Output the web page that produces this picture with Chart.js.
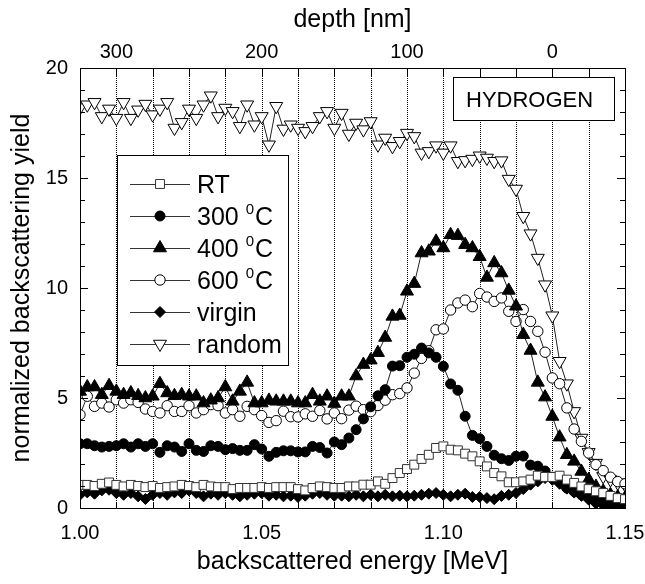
<!DOCTYPE html>
<html>
<head>
<meta charset="utf-8">
<script src="https://cdn.jsdelivr.net/npm/chart.js@4/dist/chart.umd.min.js"></script>
<style>
  html, body { margin: 0; padding: 0; background: #fff; }
  canvas { display: block; }
</style>
</head>
<body>
<canvas id="rbsChart" width="645" height="584"></canvas>
<script>
// backscattered energy [MeV], one value per channel
const energy = [
  1.000, 1.002, 1.004, 1.006, 1.008, 1.010, 1.012, 1.014, 1.016, 1.018,
  1.020, 1.022, 1.024, 1.026, 1.028, 1.030, 1.032, 1.034, 1.036, 1.038,
  1.040, 1.042, 1.044, 1.046, 1.048, 1.050, 1.052, 1.054, 1.056, 1.058,
  1.060, 1.062, 1.064, 1.066, 1.068, 1.070, 1.072, 1.074, 1.076, 1.078,
  1.080, 1.082, 1.084, 1.086, 1.088, 1.090, 1.092, 1.094, 1.096, 1.098,
  1.100, 1.102, 1.104, 1.106, 1.108, 1.110, 1.112, 1.114, 1.116, 1.118,
  1.120, 1.122, 1.124, 1.126, 1.128, 1.130, 1.132, 1.134, 1.136, 1.138,
  1.140, 1.142, 1.144, 1.146, 1.148, 1.150
];

const yieldRT = [
  1.05, 1.05, 1.00, 1.10, 1.16, 1.05, 0.98, 1.05, 1.00, 0.95,
  1.00, 0.91, 0.95, 0.98, 1.05, 1.00, 0.95, 1.05, 0.98, 0.95,
  0.95, 0.86, 0.91, 0.91, 0.91, 0.95, 0.91, 0.95, 0.95, 0.95,
  0.86, 0.80, 0.91, 0.98, 0.95, 0.91, 0.91, 0.98, 0.98, 1.06,
  1.06, 1.21, 1.10, 1.36, 1.59, 1.77, 1.97, 2.23, 2.42, 2.73,
  2.80, 2.65, 2.62, 2.47, 2.35, 2.12, 1.89, 1.59, 1.44, 1.17,
  1.17, 1.21, 1.29, 1.47, 1.41, 1.41, 1.47, 1.29, 1.14, 0.98,
  0.86, 0.76, 0.68, 0.55, 0.45, 0.40
];

const yield300 = [
  2.92, 2.92, 2.83, 2.77, 2.80, 2.83, 2.92, 2.77, 2.92, 2.80,
  2.92, 2.53, 2.83, 2.77, 2.57, 2.92, 2.62, 2.57, 2.83, 2.80,
  2.65, 2.70, 2.62, 2.62, 2.88, 2.68, 2.35, 2.53, 2.60, 2.60,
  2.55, 2.55, 2.80, 2.75, 2.50, 3.00, 2.88, 3.18, 3.56, 4.05,
  4.60, 5.10, 5.38, 6.45, 6.47, 6.85, 6.99, 7.27, 7.05, 6.85,
  6.44, 5.64, 5.35, 4.17, 3.30, 3.15, 2.80, 2.40, 2.24, 2.16,
  2.35, 2.36, 1.95, 1.90, 1.68, 1.40, 1.20, 0.91, 0.75, 0.60,
  0.50, 0.40, 0.35, 0.30, 0.25, 0.20
];

const yield400 = [
  5.30, 5.50, 5.50, 5.15, 5.56, 5.30, 5.15, 5.23, 5.10, 5.00,
  5.08, 5.65, 5.23, 5.10, 5.15, 5.08, 5.08, 4.77, 4.90, 5.00,
  5.50, 4.85, 5.30, 5.71, 4.77, 4.77, 4.89, 4.85, 4.85, 4.85,
  4.77, 4.77, 5.15, 4.85, 5.08, 4.75, 5.08, 5.08, 6.00, 6.52,
  6.72, 7.06, 7.75, 8.71, 8.75, 9.85, 10.20, 11.59, 11.67, 12.12,
  11.82, 12.42, 12.38, 11.97, 11.82, 11.42, 10.48, 11.14, 10.68, 9.89,
  9.17, 7.88, 7.16, 5.71, 5.04, 4.16, 3.22, 2.42, 2.12, 1.66,
  1.29, 0.98, 0.76, 0.60, 0.50, 0.45
];

const yield600 = [
  4.24, 5.08, 4.62, 4.77, 4.59, 4.92, 4.77, 4.92, 4.80, 4.50,
  4.39, 4.32, 4.65, 4.39, 4.39, 4.65, 4.32, 4.47, 4.70, 4.65,
  4.32, 4.47, 4.17, 4.62, 4.47, 4.20, 3.89, 3.97, 4.40, 4.15,
  4.14, 4.28, 4.17, 4.43, 4.05, 4.32, 4.06, 4.45, 4.63, 4.47,
  4.38, 4.66, 4.90, 5.15, 5.20, 5.46, 6.13, 6.80, 7.15, 8.10,
  8.14, 9.00, 9.32, 9.45, 9.15, 9.75, 9.59, 9.39, 9.55, 8.94,
  8.48, 9.02, 8.48, 8.03, 7.08, 5.91, 5.65, 4.55, 3.59, 3.03,
  2.50, 1.97, 1.70, 1.40, 1.20, 1.10
];

const yieldVirgin = [
  0.60, 0.71, 0.65, 0.80, 0.83, 0.68, 0.60, 0.68, 0.53, 0.41,
  0.60, 0.68, 0.60, 0.71, 0.68, 0.80, 0.68, 0.53, 0.65, 0.60,
  0.68, 0.60, 0.53, 0.60, 0.65, 0.68, 0.56, 0.60, 0.53, 0.56,
  0.50, 0.56, 0.65, 0.68, 0.60, 0.56, 0.56, 0.53, 0.60, 0.53,
  0.60, 0.53, 0.60, 0.53, 0.56, 0.53, 0.56, 0.60, 0.65, 0.68,
  0.60, 0.53, 0.60, 0.65, 0.50, 0.50, 0.45, 0.40, 0.55, 0.60,
  0.68, 0.86, 1.06, 1.21, 1.36, 1.28, 1.10, 0.88, 0.70, 0.55,
  0.38, 0.20, 0.12, 0.08, 0.05, 0.05
];

const yieldRandom = [
  18.20, 18.33, 18.44, 17.80, 18.14, 17.72, 18.44, 17.72, 18.10, 18.36,
  17.88, 18.14, 18.44, 17.27, 17.53, 18.14, 17.72, 18.33, 18.74, 17.80,
  18.18, 18.03, 17.35, 18.33, 17.42, 17.80, 16.51, 18.26, 17.23, 17.42,
  17.27, 17.12, 17.35, 17.80, 18.03, 17.27, 17.95, 17.00, 17.50, 17.20,
  17.57, 16.51, 16.82, 16.44, 16.67, 17.04, 16.89, 16.14, 16.21, 16.47,
  16.14, 16.47, 15.76, 15.80, 15.86, 16.01, 15.91, 15.76, 15.79, 14.95,
  14.50, 13.26, 12.47, 11.36, 10.15, 8.74, 6.67, 5.65, 4.39, 3.18,
  2.53, 2.04, 1.44, 1.29, 1.14, 1.06
];

// axis ticks
const energyLabels = [1.00, 1.05, 1.10, 1.15];
const energyGrid = [1.01, 1.02, 1.03, 1.04, 1.05, 1.06, 1.07, 1.08, 1.09, 1.10, 1.11, 1.12, 1.13, 1.14];
const depthLabels = [300, 200, 100, 0];
const yieldLabels = [0, 5, 10, 15, 20];
const yieldMinor = [1, 2, 3, 4, 6, 7, 8, 9, 11, 12, 13, 14, 16, 17, 18, 19];

const seriesNames = ["RT", "300", "400", "600", "virgin", "random"];

const FONT = '"Liberation Sans", Arial, Helvetica, sans-serif';
Chart.defaults.font.family = FONT;
Chart.defaults.color = "#000";

function toPoints(values) {
    return energy.map((e, i) => ({ x: e, y: values[i] }));
}

const styles = [
    { pointStyle: "rect", radius: 6.3, rotation: 0, fill: "#fff", stroke: "#333" },
    { pointStyle: "circle", radius: 5, rotation: 0, fill: "#000", stroke: "#000" },
    { pointStyle: "triangle", radius: 7.5, rotation: 0, fill: "#000", stroke: "#000" },
    { pointStyle: "circle", radius: 5.2, rotation: 0, fill: "#fff", stroke: "#000" },
    { pointStyle: "rectRot", radius: 5.5, rotation: 0, fill: "#000", stroke: "#000" },
    { pointStyle: "triangle", radius: 7.5, rotation: 180, fill: "#fff", stroke: "#000" }
];

const allValues = [yieldRT, yield300, yield400, yield600, yieldVirgin, yieldRandom];

const datasets = allValues.map((vals, k) => ({
    label: seriesNames[k],
    data: toPoints(vals),
    borderColor: "#222",
    borderWidth: 1,
    tension: 0,
    pointStyle: styles[k].pointStyle,
    pointRadius: styles[k].radius,
    pointRotation: styles[k].rotation,
    pointBackgroundColor: styles[k].fill,
    pointBorderColor: styles[k].stroke,
    pointBorderWidth: 1
}));

function drawMarker(ctx, st, x, y) {
    ctx.save();
    ctx.fillStyle = st.fill;
    ctx.strokeStyle = st.stroke;
    ctx.lineWidth = 1;
    ctx.setLineDash([]);
    ctx.beginPath();
    const r = st.radius;
    if (st.pointStyle === "circle") {
        ctx.arc(x, y, r, 0, Math.PI * 2);
    } else if (st.pointStyle === "rect") {
        const h = r * Math.SQRT1_2;
        ctx.rect(x - h, y - h, 2 * h, 2 * h);
    } else if (st.pointStyle === "rectRot") {
        ctx.moveTo(x, y - r);
        ctx.lineTo(x + r, y);
        ctx.lineTo(x, y + r);
        ctx.lineTo(x - r, y);
        ctx.closePath();
    } else {
        const s = st.rotation === 180 ? -1 : 1;
        ctx.moveTo(x, y - s * r);
        ctx.lineTo(x + r * 0.866, y + s * r * 0.5);
        ctx.lineTo(x - r * 0.866, y + s * r * 0.5);
        ctx.closePath();
    }
    ctx.fill();
    ctx.stroke();
    ctx.restore();
}

// dotted grid, inward ticks, frame, legend and label box
const decorations = {
    id: "decorations",
    beforeDatasetsDraw(chart) {
        const { ctx, chartArea: a, scales } = chart;
        ctx.save();
        ctx.strokeStyle = "#000";
        ctx.lineWidth = 1;
        ctx.setLineDash([1, 1]);
        energyGrid.forEach(e => {
            const px = Math.round(scales.x.getPixelForValue(e)) + 0.5;
            ctx.beginPath();
            ctx.moveTo(px, a.top);
            ctx.lineTo(px, a.bottom);
            ctx.stroke();
        });
        ctx.restore();
    },
    afterDatasetsDraw(chart) {
        const { ctx, chartArea: a, scales } = chart;
        ctx.save();
        ctx.strokeStyle = "#000";
        ctx.lineWidth = 1;
        ctx.setLineDash([]);
        // frame
        ctx.strokeRect(Math.round(a.left) + 0.5, Math.round(a.top) + 0.5,
            Math.round(a.right - a.left), Math.round(a.bottom - a.top));

        ctx.beginPath();
        // x ticks (bottom and top), inward
        energyGrid.forEach(e => {
            const px = Math.round(scales.x.getPixelForValue(e)) + 0.5;
            const major = energyLabels.some(v => Math.abs(v - e) < 1e-6);
            ctx.moveTo(px, a.bottom);
            ctx.lineTo(px, a.bottom - (major ? 8 : 5));
            ctx.moveTo(px, a.top);
            ctx.lineTo(px, a.top + 8);
        });
        // y ticks (left and right), inward
        yieldLabels.concat(yieldMinor).forEach(v => {
            const py = Math.round(scales.y.getPixelForValue(v)) + 0.5;
            const len = yieldLabels.includes(v) ? 8 : 5;
            ctx.moveTo(a.left, py);
            ctx.lineTo(a.left + len, py);
            ctx.moveTo(a.right, py);
            ctx.lineTo(a.right - len, py);
        });
        ctx.stroke();

        // HYDROGEN box
        ctx.fillStyle = "#fff";
        ctx.fillRect(453, 77, 161, 43);
        ctx.strokeRect(453.5, 77.5, 161, 43);
        ctx.fillStyle = "#000";
        ctx.font = "22px " + FONT;
        ctx.textBaseline = "alphabetic";
        ctx.textAlign = "left";
        ctx.fillText("HYDROGEN", 466, 106.5);

        // legend
        const box = { left: 117, top: 155, right: 288, bottom: 365 };
        ctx.fillStyle = "#fff";
        ctx.fillRect(box.left, box.top, box.right - box.left, box.bottom - box.top);
        ctx.strokeRect(box.left + 0.5, box.top + 0.5, box.right - box.left, box.bottom - box.top);
        seriesNames.forEach((name, k) => {
            const cy = 184 + 32 * k;
            ctx.strokeStyle = "#333";
            ctx.beginPath();
            ctx.moveTo(130, cy + 0.5);
            ctx.lineTo(190, cy + 0.5);
            ctx.stroke();
            drawMarker(ctx, styles[k], 160, cy);
            ctx.fillStyle = "#000";
            const base = cy + 9;
            ctx.font = "25px " + FONT;
            if (name === "RT" || name === "virgin" || name === "random") {
                ctx.fillText(name, 197, base);
            } else {
                const num = name + " ";
                ctx.fillText(num, 197, base);
                let x = 197 + ctx.measureText(num).width;
                ctx.font = "15px " + FONT;
                ctx.fillText("0", x, base - 11);
                x += ctx.measureText("0").width + 1;
                ctx.font = "25px " + FONT;
                ctx.fillText("C", x, base);
            }
        });
        ctx.restore();
    }
};

const ctx = document.getElementById("rbsChart").getContext("2d");

new Chart(ctx, {
    type: "line",
    data: { datasets: datasets },
    options: {
        responsive: false,
        animation: false,
        events: [],
        layout: { padding: 0 },
        plugins: {
            legend: { display: false },
            tooltip: { enabled: false }
        },
        scales: {
            x: {
                type: "linear",
                position: "bottom",
                min: 1.0,
                max: 1.15,
                // tick marks are not drawn (grid hidden); tickLength only spaces the labels
                grid: { display: false, drawTicks: true, tickLength: 13 },
                border: { display: false },
                afterBuildTicks: axis => { axis.ticks = energyLabels.map(v => ({ value: v })); },
                afterFit: axis => { axis.height = 76; },
                ticks: {
                    font: { size: 20 },
                    padding: 0,
                    maxRotation: 0,
                    autoSkip: false,
                    callback: v => v.toFixed(2)
                },
                title: {
                    display: true,
                    text: "backscattered energy [MeV]",
                    font: { size: 25 },
                    padding: { top: 0, bottom: 7 }
                }
            },
            depth: {
                type: "linear",
                position: "top",
                reverse: true,
                min: -50,
                max: 325,
                grid: { display: false, drawTicks: true, tickLength: 4 },
                border: { display: false },
                afterBuildTicks: axis => { axis.ticks = depthLabels.map(v => ({ value: v })); },
                afterFit: axis => { axis.height = 68; },
                ticks: {
                    font: { size: 20 },
                    padding: 0,
                    maxRotation: 0,
                    autoSkip: false,
                    callback: v => String(v)
                },
                title: {
                    display: true,
                    text: "depth [nm]",
                    font: { size: 25 },
                    padding: { top: 5, bottom: 0 }
                }
            },
            y: {
                position: "left",
                min: 0,
                max: 20,
                grid: { display: false, drawTicks: false },
                border: { display: false },
                afterBuildTicks: axis => { axis.ticks = yieldLabels.map(v => ({ value: v })); },
                afterFit: axis => { axis.width = 80; },
                ticks: {
                    font: { size: 20 },
                    padding: 12,
                    callback: v => String(v)
                },
                title: {
                    display: true,
                    text: "normalized backscattering yield",
                    font: { size: 25 },
                    padding: { top: 7, bottom: 0 }
                }
            },
            yRight: {
                position: "right",
                min: 0,
                max: 20,
                grid: { display: false, drawTicks: false },
                border: { display: false },
                ticks: { display: false },
                afterFit: axis => { axis.width = 20; }
            }
        }
    },
    plugins: [decorations]
});
</script>
</body>
</html>
